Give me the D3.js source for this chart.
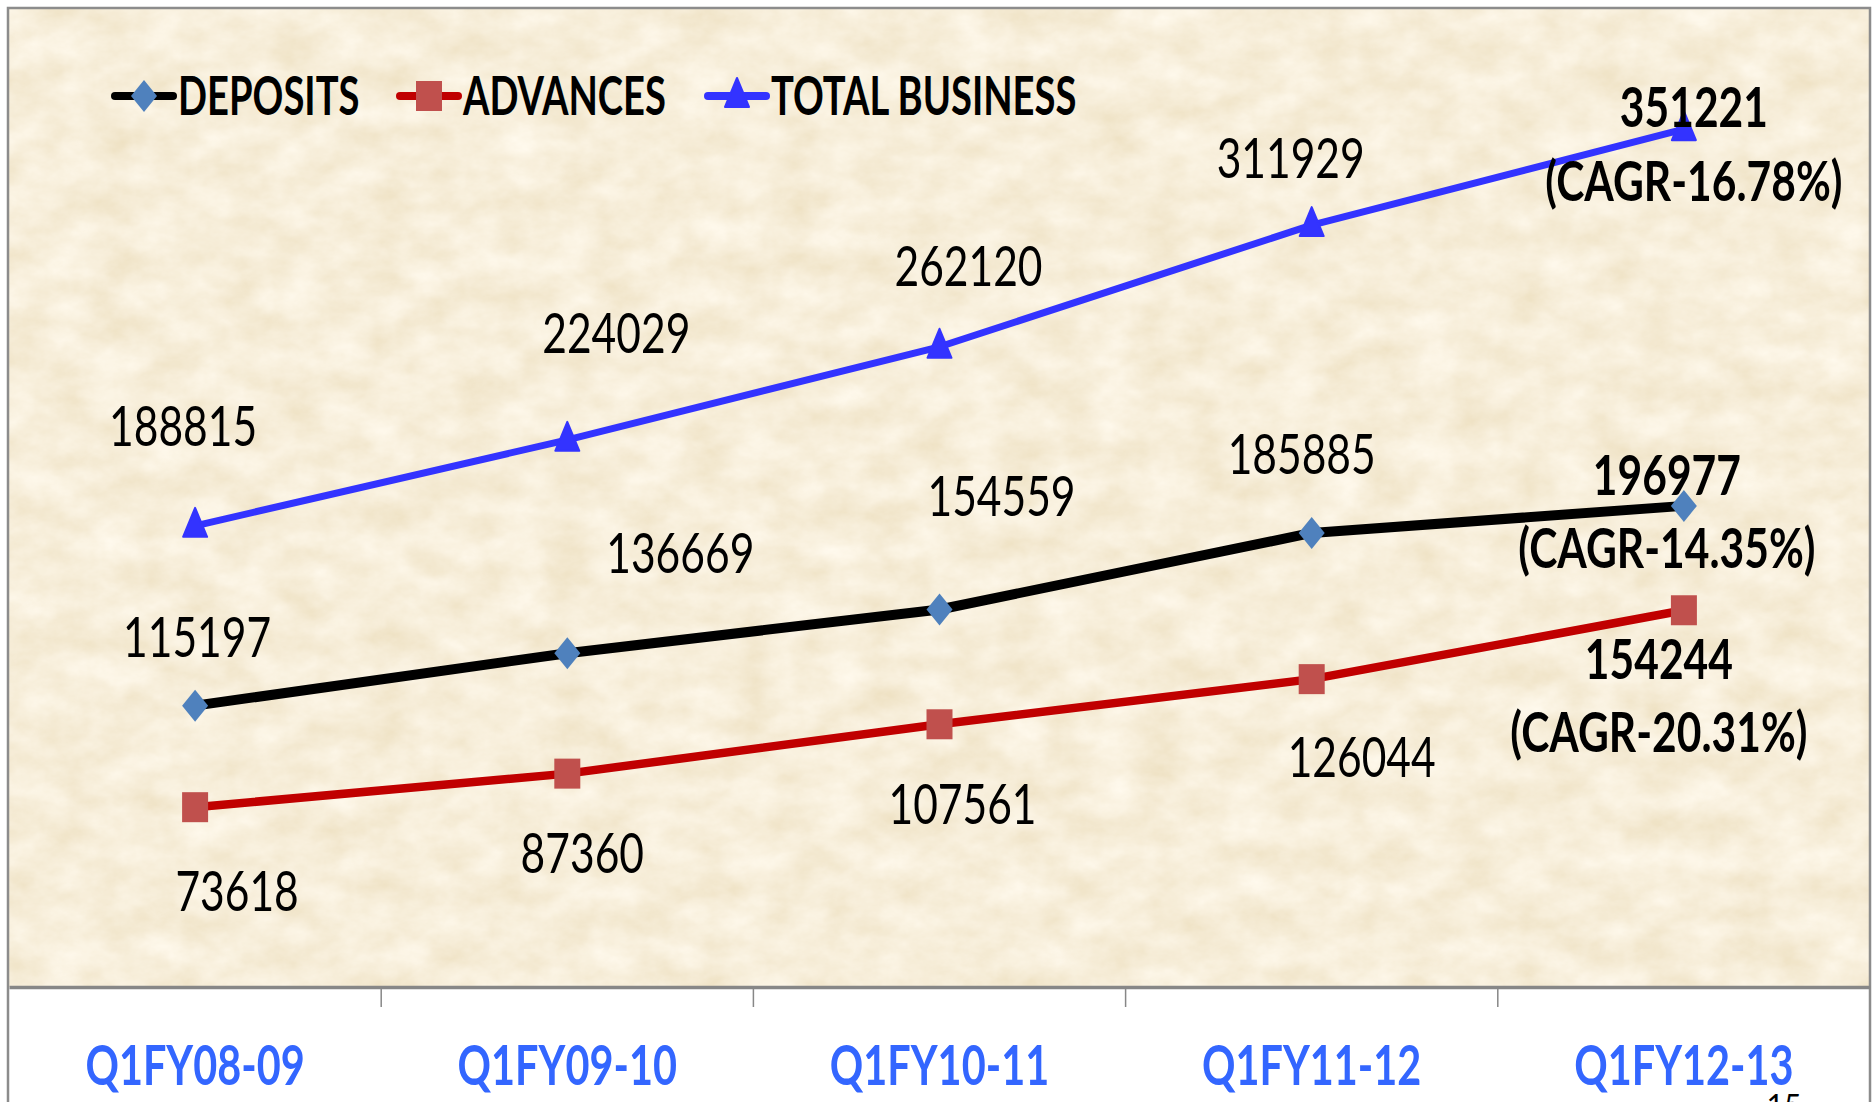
<!DOCTYPE html>
<html>
<head>
<meta charset="utf-8">
<script src="https://cdn.jsdelivr.net/npm/d3@7"></script>
<style>
body { margin: 0; background: #fff; }
text { font-family: Lato, "Open Sans", sans-serif; }
</style>
</head>
<body>
<script>
var w = 1873;
var h = 1102;

// data
var categories = ["Q1FY08-09", "Q1FY09-10", "Q1FY10-11", "Q1FY11-12", "Q1FY12-13"];
var seriesNames = ["DEPOSITS", "ADVANCES", "TOTAL BUSINESS"];
var deposits = [115197, 136669, 154559, 185885, 196977];
var advances = [73618, 87360, 107561, 126044, 154244];
var totalBusiness = [188815, 224029, 262120, 311929, 351221];
var cagrLabels = ["(CAGR-14.35%)", "(CAGR-20.31%)", "(CAGR-16.78%)"];
var pageNumber = "15";

// hand placed label offsets (layout only), [dx, dy] from the point
var depositsOffsets = [[2, -69], [113, -100], [62, -114], [-10, -79], [-17, -31]];
var advancesOffsets = [[42, 84], [15, 79], [23, 80], [50, 78], [-25, 49]];
var totalOffsets = [[-12, -100], [49, -107], [29, -81], [-21, -67], [10, -22]];
var cagrOffsets = [[-17, 42], [-25, 122], [10, 52]];

var plot = {left: 9, right: 1870, top: 9, bottom: 987};
var sx = 0.76; // condensed text

var svg = d3.select("body").append("svg")
    .attr("width", w)
    .attr("height", h);

// parchment texture
var defs = svg.append("defs");
var filt = defs.append("filter").attr("id", "paper")
    .attr("x", 0).attr("y", 0).attr("width", 1).attr("height", 1);
filt.append("feTurbulence")
    .attr("type", "fractalNoise")
    .attr("baseFrequency", "0.022 0.032")
    .attr("numOctaves", 5)
    .attr("seed", 11)
    .attr("result", "noise");
filt.append("feColorMatrix")
    .attr("in", "noise")
    .attr("type", "matrix")
    .attr("values",
        "0.16 0 0 0 0.85 " +
        "0.22 0 0 0 0.745 " +
        "0.34 0 0 0 0.53 " +
        "0 0 0 0 1");

svg.append("rect")
    .attr("x", plot.left).attr("y", plot.top)
    .attr("width", plot.right - plot.left)
    .attr("height", plot.bottom - plot.top)
    .attr("fill", "#eedab4");
svg.append("rect")
    .attr("x", plot.left).attr("y", plot.top)
    .attr("width", plot.right - plot.left)
    .attr("height", plot.bottom - plot.top)
    .attr("filter", "url(#paper)");

// outer frame
svg.append("path")
    .attr("d", "M8," + (h + 5) + "V8H1870V" + (h + 5))
    .attr("fill", "none")
    .attr("stroke", "#8c8c8c")
    .attr("stroke-width", 2.5);

// scales
var xScale = d3.scaleBand()
    .domain(categories)
    .range([plot.left, plot.right]);
var yScale = d3.scaleLinear()
    .domain([0, 400000])
    .range([plot.bottom, 10]);

function cx(i) {
    return xScale(categories[i]) + xScale.bandwidth() / 2;
}

// x axis
var xaxis = d3.axisBottom(xScale).tickSize(0).tickSizeOuter(0);
var ax = svg.append("g")
    .attr("transform", "translate(0," + plot.bottom + ")")
    .call(xaxis);
ax.select(".domain")
    .attr("stroke", "#878787")
    .attr("stroke-width", 3.5);
ax.selectAll(".tick text")
    .attr("y", 98)
    .attr("dy", 0)
    .attr("transform", "scale(0.74,1)")
    .attr("fill", "#3366ff")
    .attr("font-family", "Lato, 'Open Sans', sans-serif")
    .attr("font-weight", "bold")
    .attr("font-size", 56);

//boundary ticks between categories
ax.selectAll("line.sep")
    .data(categories.slice(1))
    .enter()
    .append("line")
    .attr("class", "sep")
    .attr("x1", function (d) { return xScale(d); })
    .attr("x2", function (d) { return xScale(d); })
    .attr("y1", 2)
    .attr("y2", 20)
    .attr("stroke", "#878787")
    .attr("stroke-width", 1.5);

// marker shapes
var markers = {
    diamond: function (g) {
        g.append("path").attr("d", "M0,-16L13,0L0,16L-13,0Z").attr("fill", "#4f81bd");
    },
    square: function (g) {
        g.append("rect").attr("x", -13).attr("y", -15).attr("width", 26).attr("height", 30).attr("fill", "#c0504d");
    },
    triangle: function (g) {
        g.append("path").attr("d", "M0,-18L12,11L-12,11Z").attr("fill", "#3333ff")
            .attr("stroke", "#3333ff").attr("stroke-width", 2).attr("stroke-linejoin", "round");
    }
};

var series = [
    {name: seriesNames[0], values: deposits, color: "#000000", width: 10, marker: "diamond", offsets: depositsOffsets},
    {name: seriesNames[1], values: advances, color: "#c00000", width: 8.5, marker: "square", offsets: advancesOffsets},
    {name: seriesNames[2], values: totalBusiness, color: "#3333ff", width: 7, marker: "triangle", offsets: totalOffsets}
];

var line = d3.line()
    .x(function (d, i) { return cx(i); })
    .y(function (d) { return yScale(d); });

function label(x, y, str, weight) {
    svg.append("text")
        .attr("transform", "translate(" + x + "," + y + ") scale(" + sx + ",1)")
        .attr("text-anchor", "middle")
        .attr("dy", "0.36em")
        .attr("font-size", 56)
        .attr("font-weight", weight)
        .attr("fill", "#000")
        .text(str);
}

series.forEach(function (s, k) {
    svg.append("path")
        .datum(s.values)
        .attr("d", line)
        .attr("fill", "none")
        .attr("stroke", s.color)
        .attr("stroke-width", s.width)
        .attr("stroke-linejoin", "round")
        .attr("stroke-linecap", "round");

    s.values.forEach(function (v, i) {
        var g = svg.append("g")
            .attr("transform", "translate(" + cx(i) + "," + yScale(v) + ")");
        markers[s.marker](g);
    });

    s.values.forEach(function (v, i) {
        var last = i === s.values.length - 1;
        label(cx(i) + s.offsets[i][0], yScale(v) + s.offsets[i][1], v, last ? "bold" : "normal");
    });

    var n = s.values.length - 1;
    label(cx(n) + cagrOffsets[k][0], yScale(s.values[n]) + cagrOffsets[k][1], cagrLabels[k], "bold");
});

// legend
var legendX = [115, 400, 708];
series.forEach(function (s, k) {
    var lg = svg.append("g").attr("transform", "translate(" + legendX[k] + ",96)");
    lg.append("line")
        .attr("x1", 0).attr("x2", 58)
        .attr("stroke", s.color)
        .attr("stroke-width", 8)
        .attr("stroke-linecap", "round");
    var mg = lg.append("g").attr("transform", "translate(29,0)");
    markers[s.marker](mg);
    lg.append("text")
        .attr("transform", "translate(63,0) scale(0.72,1)")
        .attr("dy", "0.36em")
        .attr("font-size", 53)
        .attr("font-weight", "bold")
        .attr("fill", "#000")
        .text(s.name);
});

// page number
svg.append("text")
    .attr("x", 1784)
    .attr("y", 1116)
    .attr("text-anchor", "middle")
    .attr("font-size", 30)
    .attr("fill", "#000")
    .text(pageNumber);
</script>
</body>
</html>
